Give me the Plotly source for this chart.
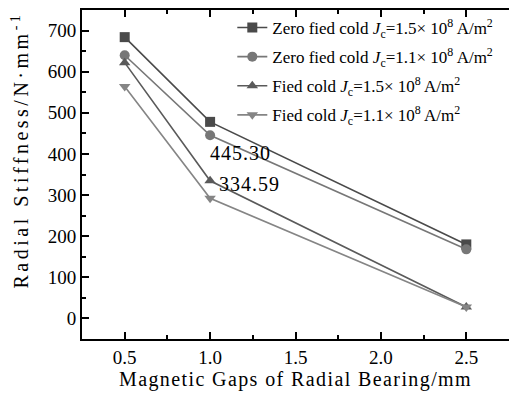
import plotly.graph_objects as go

gaps = [0.5, 1.0, 2.5]
s1 = [684, 478, 180]
s2 = [640, 445.30, 168]
s3 = [622, 334.59, 28]
s4 = [564, 292, 28]

names = [
    "Zero fied cold <i>J</i><sub>c</sub>=1.5\u00d7 10<sup>8</sup> A/m<sup>2</sup>",
    "Zero fied cold <i>J</i><sub>c</sub>=1.1\u00d7 10<sup>8</sup> A/m<sup>2</sup>",
    "Fied cold <i>J</i><sub>c</sub>=1.5\u00d7 10<sup>8</sup> A/m<sup>2</sup>",
    "Fied cold <i>J</i><sub>c</sub>=1.1\u00d7 10<sup>8</sup> A/m<sup>2</sup>",
]
series = [s1, s2, s3, s4]
symbols = ["square", "circle", "triangle-up", "triangle-down"]
colors = ["#4a4a4a", "#777777", "#5a5a5a", "#858585"]

FONT = "Liberation Serif, Times New Roman, serif"

fig = go.Figure()
for i, (n, s, sym, c) in enumerate(zip(names, series, symbols, colors)):
    fig.add_trace(go.Scatter(
        x=gaps, y=s, mode="lines+markers", name=n, legendgroup=f"g{i}",
        line=dict(color=c, width=1.6),
        marker=dict(symbol=sym, size=10, color=c),
    ))

fig.add_annotation(x=1.0, y=403, text=f"{s2[1]:.2f}", showarrow=False,
                   xanchor="left", xshift=1, font=dict(family=FONT, size=20, color="black"))
fig.add_annotation(x=1.0, y=326, text=f"{s3[1]:.2f}", showarrow=False,
                   xanchor="left", xshift=10, font=dict(family=FONT, size=20, color="black"))
fig.add_annotation(xref="paper", yref="paper", x=-0.145, y=0.574,
                   text="Radial Stiffness/N\u00b7mm<sup>-1</sup>", textangle=-90,
                   showarrow=False, xanchor="center", yanchor="middle",
                   font=dict(family=FONT, size=20, color="black"))

fig.update_layout(
    width=509, height=395,
    margin=dict(l=82, r=0, t=10, b=56),
    plot_bgcolor="white", paper_bgcolor="white",
    font=dict(family=FONT, size=19, color="black"),
    legend=dict(x=0.352, y=1.0, xanchor="left", yanchor="top",
                bgcolor="rgba(0,0,0,0)", font=dict(family=FONT, size=17),
                tracegroupgap=4),
    showlegend=True,
)
fig.update_xaxes(
    range=[0.25, 2.75], tickvals=[0.5, 1.0, 1.5, 2.0, 2.5],
    ticktext=["0.5", "1.0", "1.5", "2.0", "2.5"],
    ticks="inside", ticklen=7, tickwidth=1.5, tickcolor="black",
    minor=dict(dtick=0.25, tick0=0.25, ticks="inside", ticklen=4, tickwidth=1.5, tickcolor="black"),
    showline=True, linewidth=2, linecolor="black", mirror="allticks",
    showgrid=False, zeroline=False,
    title=dict(text="Magnetic Gaps of Radial Bearing/mm", standoff=2, font=dict(size=20)),
)
fig.update_yaxes(
    range=[-50, 750], tickvals=[0, 100, 200, 300, 400, 500, 600, 700],
    ticks="inside", ticklen=7, tickwidth=1.5, tickcolor="black",
    minor=dict(dtick=50, tick0=50, ticks="inside", ticklen=4, tickwidth=1.5, tickcolor="black"),
    showline=True, linewidth=2, linecolor="black", mirror=False,
    showgrid=False, zeroline=False,
)

js = """
var gd = document.getElementById('{plot_id}');
function sp(sel, v){ gd.querySelectorAll(sel).forEach(function(e){ e.style.letterSpacing = v; }); }
sp('.xtitle', '1.4px');
gd.querySelectorAll('.annotation-text').forEach(function(e){
  e.style.letterSpacing = (e.textContent.indexOf('Radial') === 0) ? '3.5px' : '1px';
});
"""
fig.write_html("out.html", post_script=js)
